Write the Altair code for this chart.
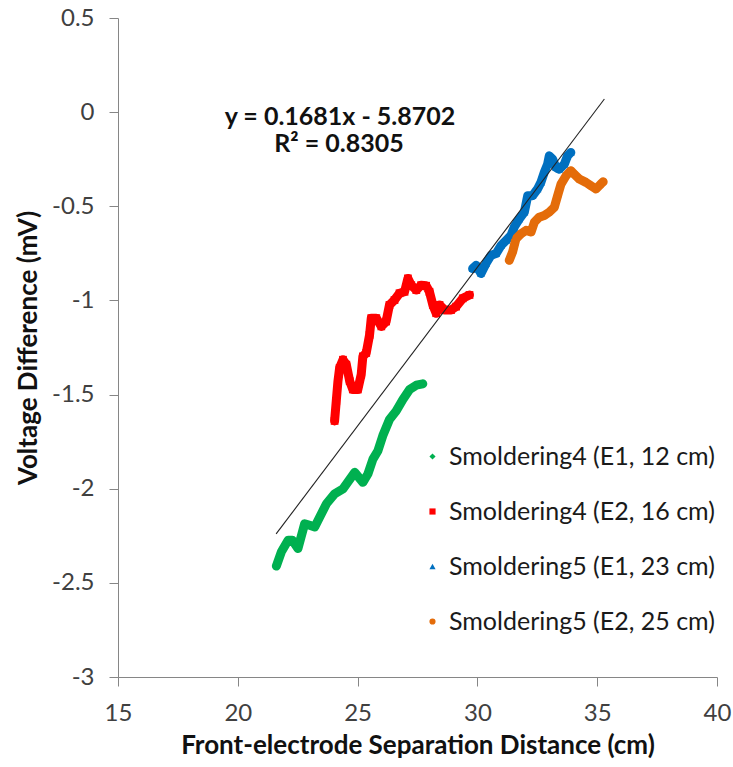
import altair as alt
import pandas as pd

series_names = [
    "Smoldering4 (E1, 12 cm)",
    "Smoldering4 (E2, 16 cm)",
    "Smoldering5 (E1, 23 cm)",
    "Smoldering5 (E2, 25 cm)",
]
series_colors = ["#00B050", "#FF0000", "#0070C0", "#E46C0A"]
series_shapes = ["diamond", "square", "triangle-up", "circle"]

# Smoldering4 (E1, 12 cm) - green
s4e1_x = [21.61, 21.82, 22.10, 22.28, 22.51, 22.79, 23.00, 23.21, 23.42, 23.70,
          24.04, 24.39, 24.88, 25.22, 25.43, 25.64, 25.85, 26.05, 26.33, 26.61,
          26.89, 27.17, 27.45, 27.72]
s4e1_y = [-2.411, -2.335, -2.274, -2.274, -2.318, -2.186, -2.194, -2.203, -2.150, -2.080,
          -2.027, -2.001, -1.913, -1.966, -1.922, -1.843, -1.798, -1.719, -1.632, -1.587,
          -1.526, -1.473, -1.450, -1.443]

# Smoldering4 (E2, 16 cm) - red
s4e2_x = [24.04, 24.11, 24.18, 24.25, 24.39, 24.53, 24.67, 24.80, 25.01, 25.15,
          25.22, 25.36, 25.50, 25.57, 25.78, 25.99, 26.19, 26.33, 26.54, 26.75,
          26.96, 27.10, 27.24, 27.45, 27.65, 27.86, 28.00, 28.14, 28.28, 28.42,
          28.63, 28.90, 29.11, 29.39, 29.67]
s4e2_y = [-1.640, -1.534, -1.429, -1.358, -1.315, -1.341, -1.429, -1.473, -1.473, -1.394,
          -1.297, -1.279, -1.183, -1.094, -1.094, -1.138, -1.112, -1.024, -0.998, -0.962,
          -0.954, -0.883, -0.919, -0.945, -0.919, -0.922, -0.954, -1.024, -1.068, -1.024,
          -1.051, -1.051, -1.033, -0.989, -0.971]

# Smoldering5 (E1, 23 cm) - blue
s5e1_x = [29.80, 29.95, 30.15, 30.36, 30.57, 30.78, 30.99, 31.20, 31.40, 31.54,
          31.75, 31.96, 32.10, 32.30, 32.51, 32.65, 32.79, 32.93, 33.00, 33.14,
          33.28, 33.42, 33.63, 33.76, 33.90]
s5e1_y = [-0.831, -0.813, -0.857, -0.804, -0.760, -0.751, -0.708, -0.681, -0.655, -0.610,
          -0.567, -0.531, -0.444, -0.444, -0.408, -0.373, -0.320, -0.276, -0.232, -0.250,
          -0.294, -0.303, -0.276, -0.232, -0.214]

# Smoldering5 (E2, 25 cm) - orange
s5e2_x = [31.33, 31.47, 31.61, 31.82, 32.03, 32.24, 32.38, 32.58, 32.79, 33.00,
          33.21, 33.35, 33.49, 33.70, 33.90, 34.04, 34.25, 34.53, 34.74, 34.95,
          35.15, 35.25]
s5e2_y = [-0.787, -0.742, -0.672, -0.646, -0.628, -0.637, -0.584, -0.558, -0.549, -0.531,
          -0.505, -0.443, -0.382, -0.338, -0.311, -0.329, -0.355, -0.373, -0.391, -0.408,
          -0.382, -0.370]

# Linear trendline (as drawn)
trend_x = [21.6, 35.3]
trend_y = [-2.24, 0.07]

eq_line1 = "y = 0.1681x - 5.8702"
eq_line2 = "R\u00b2 = 0.8305"

x_ticks = [15, 20, 25, 30, 35, 40]
y_ticks = [0.5, 0, -0.5, -1, -1.5, -2, -2.5, -3]

rows = []
for name, xs, ys in zip(series_names,
                        [s4e1_x, s4e2_x, s5e1_x, s5e2_x],
                        [s4e1_y, s4e2_y, s5e1_y, s5e2_y]):
    for i, (xv, yv) in enumerate(zip(xs, ys)):
        rows.append({"series": name, "x": xv, "y": yv, "order": i})
df = pd.DataFrame(rows)
trend_df = pd.DataFrame({"x": trend_x, "y": trend_y})

FONT = "Lato"

xscale = alt.Scale(domain=[15, 40], nice=False, zero=False)
yscale = alt.Scale(domain=[-3, 0.5], nice=False, zero=False)

xaxis = alt.Axis(
    values=x_ticks, grid=False, title="Front-electrode Separation Distance (cm)",
    domainColor="#868686", tickColor="#868686", tickSize=9, labelFlush=False,
    labelFont=FONT, labelFontSize=24, labelColor="#404040", labelPadding=15,
    titleFont=FONT, titleFontSize=26, titleFontWeight="bold", titleColor="#111111",
    titlePadding=7, labelExpr="'' + datum.value",
)
yaxis = alt.Axis(
    values=y_ticks, grid=False, title="Voltage Difference (mV)",
    domainColor="#868686", tickColor="#868686", tickSize=9, labelFlush=False,
    labelFont=FONT, labelFontSize=24, labelColor="#404040", labelPadding=15,
    titleFont=FONT, titleFontSize=26, titleFontWeight="bold", titleColor="#111111",
    titlePadding=10, labelExpr="'' + datum.value",
)

color_scale = alt.Scale(domain=series_names, range=series_colors)
shape_scale = alt.Scale(domain=series_names, range=series_shapes)

base = alt.Chart(df)

line_layers = []
for k, (name, col) in enumerate(zip(series_names, series_colors)):
    enc = dict(
        x=alt.X("x:Q", scale=xscale, axis=xaxis if k == 0 else alt.Undefined),
        y=alt.Y("y:Q", scale=yscale, axis=yaxis if k == 0 else alt.Undefined),
        order="order:Q",
    )
    line_layers.append(
        base.transform_filter(alt.datum.series == name)
        .mark_line(color=col, strokeWidth=9, strokeCap="round", strokeJoin="round")
        .encode(**enc)
    )

legend = alt.Legend(
    orient="none", legendX=302, legendY=426,
    labelFont=FONT, labelFontSize=25, labelColor="#1a1a1a", labelLimit=400,
    symbolSize=38, rowPadding=29, labelOffset=4, symbolStrokeWidth=0,
)

points = base.mark_point(filled=True, size=60, opacity=1).encode(
    x=alt.X("x:Q", scale=xscale),
    y=alt.Y("y:Q", scale=yscale),
    color=alt.Color("series:N", scale=color_scale, legend=legend, title=None),
    shape=alt.Shape("series:N", scale=shape_scale, legend=legend, title=None),
)

trend = alt.Chart(trend_df).mark_line(color="#222222", strokeWidth=1.1).encode(
    x=alt.X("x:Q", scale=xscale),
    y=alt.Y("y:Q", scale=yscale),
)

ann = pd.DataFrame({"t": [eq_line1]})
ann2 = pd.DataFrame({"t": [eq_line2]})
eq1 = alt.Chart(ann).mark_text(font=FONT, fontSize=25, fontWeight="bold", color="#111111",
                               align="center", baseline="middle").encode(
    text="t:N", x=alt.value(222), y=alt.value(99))
eq2 = alt.Chart(ann2).mark_text(font=FONT, fontSize=25, fontWeight="bold", color="#111111",
                                align="center", baseline="middle").encode(
    text="t:N", x=alt.value(221), y=alt.value(126))

chart = alt.layer(*line_layers, points, trend, eq1, eq2).properties(
    width=599, height=659,
    autosize=alt.AutoSizeParams(type="none"),
    padding={"left": 118, "top": 18, "right": 16, "bottom": 90},
    background="white",
).configure_view(stroke=None)

chart.save("out.html", embed_options={"renderer": "svg", "actions": False})
